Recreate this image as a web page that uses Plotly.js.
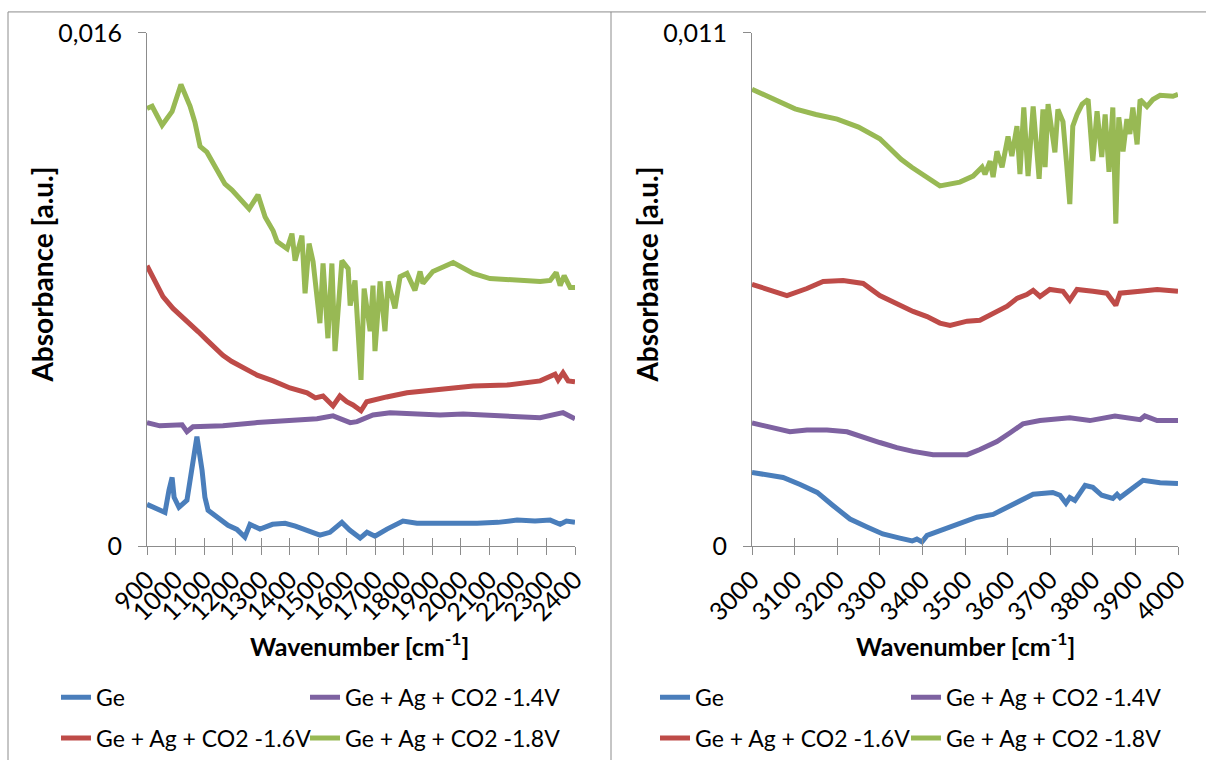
<!DOCTYPE html>
<html>
<head>
<meta charset="utf-8">
<script src="https://cdn.plot.ly/plotly-3.0.1.min.js"></script>
<style>
  html, body { margin: 0; padding: 0; background: #ffffff; }
  #chart { width: 1206px; height: 760px; }
</style>
</head>
<body>
<div id="chart"></div>
<script>
// ---------- DATA ----------
const seriesNames = ["Ge", "Ge + Ag + CO2 -1.4V", "Ge + Ag + CO2 -1.6V", "Ge + Ag + CO2 -1.8V"];

// Left panel (900 - 2400 cm-1)
const leftTicks = [900, 1000, 1100, 1200, 1300, 1400, 1500, 1600, 1700, 1800, 1900, 2000, 2100, 2200, 2300, 2400];
const leftYTicks = [0, 0.016];
const leftYTickText = ["0", "0,016"];

const leftGeX = [900, 945, 963, 977, 988, 995, 1012, 1040, 1061, 1075, 1093, 1103, 1114, 1150, 1184, 1215, 1243, 1261, 1296, 1340, 1384, 1420, 1461, 1506, 1541, 1583, 1610, 1647, 1671, 1699, 1741, 1797, 1846, 1902, 1980, 2057, 2130, 2197, 2260, 2313, 2348, 2370, 2400];
const leftGeY = [0.00130, 0.00112, 0.00105, 0.00174, 0.00214, 0.00152, 0.00121, 0.00143, 0.00254, 0.00341, 0.00236, 0.00152, 0.00112, 0.00090, 0.00065, 0.00052, 0.00028, 0.00068, 0.00053, 0.00068, 0.00071, 0.00062, 0.00050, 0.00034, 0.00043, 0.00074, 0.00050, 0.00025, 0.00043, 0.00031, 0.00053, 0.00078, 0.00071, 0.00071, 0.00068, 0.00071, 0.00074, 0.00081, 0.00078, 0.00081, 0.00068, 0.00078, 0.00074];

const left14X = [900, 945, 1023, 1040, 1061, 1166, 1286, 1401, 1496, 1552, 1612, 1636, 1692, 1752, 1927, 2008, 2162, 2278, 2358, 2393, 2400];
const left14Y = [0.00385, 0.00375, 0.00378, 0.00357, 0.00372, 0.00375, 0.00385, 0.00391, 0.00397, 0.00406, 0.00385, 0.00388, 0.00409, 0.00416, 0.00409, 0.00412, 0.00403, 0.00400, 0.00416, 0.00397, 0.00397];

const left16X = [900, 930, 956, 991, 1020, 1051, 1080, 1110, 1140, 1166, 1196, 1226, 1256, 1286, 1342, 1401, 1461, 1490, 1517, 1535, 1552, 1576, 1600, 1622, 1650, 1670, 1692, 1740, 1811, 1927, 2043, 2162, 2278, 2330, 2341, 2358, 2376, 2400];
const left16Y = [0.00874, 0.00825, 0.00778, 0.00741, 0.00718, 0.00695, 0.00668, 0.00642, 0.00616, 0.00595, 0.00576, 0.00561, 0.00545, 0.00533, 0.00515, 0.00493, 0.00478, 0.00462, 0.00468, 0.00450, 0.00437, 0.00468, 0.00450, 0.00440, 0.00422, 0.00450, 0.00456, 0.00465, 0.00478, 0.00487, 0.00499, 0.00502, 0.00515, 0.00536, 0.00518, 0.00540, 0.00515, 0.00512];

const left18X = [900, 918, 953, 988, 1019, 1051, 1068, 1086, 1110, 1131, 1173, 1198, 1258, 1289, 1314, 1342, 1356, 1391, 1408, 1419, 1443, 1454, 1468, 1482, 1506, 1517, 1534, 1548, 1559, 1583, 1605, 1612, 1629, 1650, 1661, 1682, 1692, 1699, 1717, 1734, 1745, 1769, 1787, 1811, 1839, 1857, 1867, 1902, 1973, 2043, 2102, 2278, 2313, 2334, 2348, 2362, 2383, 2400];
const left18Y = [0.01364, 0.01371, 0.01312, 0.01355, 0.01439, 0.01371, 0.01321, 0.01246, 0.01228, 0.01197, 0.01129, 0.01110, 0.01051, 0.01095, 0.01026, 0.00983, 0.00949, 0.00927, 0.00974, 0.00890, 0.00968, 0.00788, 0.00943, 0.00887, 0.00695, 0.00881, 0.00648, 0.00881, 0.00608, 0.00890, 0.00865, 0.00750, 0.00828, 0.00518, 0.00803, 0.00670, 0.00812, 0.00608, 0.00825, 0.00670, 0.00825, 0.00741, 0.00840, 0.00850, 0.00797, 0.00856, 0.00819, 0.00856, 0.00884, 0.00850, 0.00834, 0.00825, 0.00828, 0.00853, 0.00812, 0.00843, 0.00806, 0.00806];

// Right panel (3000 - 4000 cm-1)
const rightTicks = [3000, 3100, 3200, 3300, 3400, 3500, 3600, 3700, 3800, 3900, 4000];
const rightYTicks = [0, 0.011];
const rightYTickText = ["0", "0,011"];

const rightGeX = [3000, 3049, 3073, 3113, 3153, 3190, 3230, 3270, 3307, 3347, 3376, 3387, 3399, 3411, 3448, 3488, 3528, 3566, 3606, 3636, 3660, 3706, 3723, 3737, 3746, 3758, 3782, 3800, 3821, 3847, 3857, 3864, 3894, 3918, 3958, 4000];
const rightGeY = [0.00158, 0.00151, 0.00147, 0.00132, 0.00115, 0.00087, 0.00058, 0.00041, 0.00026, 0.00017, 0.00011, 0.00015, 0.00009, 0.00023, 0.00036, 0.00049, 0.00062, 0.00068, 0.00087, 0.00100, 0.00111, 0.00115, 0.00109, 0.00092, 0.00104, 0.00098, 0.00130, 0.00126, 0.00109, 0.00102, 0.00111, 0.00104, 0.00126, 0.00141, 0.00136, 0.00134];

const right14X = [3000, 3049, 3089, 3129, 3176, 3223, 3261, 3300, 3340, 3378, 3425, 3465, 3505, 3535, 3575, 3606, 3636, 3676, 3746, 3793, 3852, 3911, 3922, 3951, 4000];
const right14Y = [0.00264, 0.00254, 0.00245, 0.00249, 0.00249, 0.00245, 0.00235, 0.00222, 0.00211, 0.00203, 0.00196, 0.00196, 0.00196, 0.00207, 0.00224, 0.00243, 0.00262, 0.00269, 0.00275, 0.00269, 0.00279, 0.00271, 0.00279, 0.00269, 0.00269];

const right16X = [3000, 3042, 3082, 3129, 3167, 3214, 3261, 3300, 3340, 3378, 3411, 3441, 3465, 3505, 3535, 3566, 3599, 3622, 3645, 3660, 3676, 3699, 3730, 3746, 3763, 3800, 3833, 3854, 3864, 3911, 3951, 4000];
const right16Y = [0.00561, 0.00548, 0.00537, 0.00552, 0.00567, 0.00569, 0.00563, 0.00537, 0.00520, 0.00503, 0.00492, 0.00478, 0.00473, 0.00482, 0.00484, 0.00499, 0.00514, 0.00531, 0.00539, 0.00548, 0.00535, 0.00550, 0.00546, 0.00527, 0.00550, 0.00546, 0.00542, 0.00516, 0.00542, 0.00546, 0.00550, 0.00546];

const right18X = [3000, 3050, 3101, 3150, 3200, 3250, 3300, 3325, 3350, 3375, 3399, 3420, 3441, 3488, 3519, 3540, 3547, 3559, 3566, 3575, 3587, 3601, 3610, 3622, 3629, 3638, 3648, 3660, 3674, 3683, 3688, 3695, 3711, 3718, 3730, 3739, 3746, 3753, 3763, 3775, 3789, 3800, 3810, 3821, 3829, 3838, 3847, 3854, 3861, 3871, 3880, 3887, 3894, 3904, 3911, 3927, 3941, 3958, 3988, 4000];
const right18Y = [0.00979, 0.00957, 0.00937, 0.00925, 0.00915, 0.00898, 0.00873, 0.00851, 0.00829, 0.00812, 0.00797, 0.00782, 0.00772, 0.00780, 0.00793, 0.00812, 0.00797, 0.00825, 0.00791, 0.00846, 0.00812, 0.00878, 0.00836, 0.00900, 0.00797, 0.00940, 0.00793, 0.00942, 0.00787, 0.00936, 0.00812, 0.00947, 0.00844, 0.00936, 0.00910, 0.00814, 0.00733, 0.00900, 0.00925, 0.00947, 0.00957, 0.00825, 0.00932, 0.00834, 0.00925, 0.00802, 0.00940, 0.00691, 0.00919, 0.00846, 0.00915, 0.00883, 0.00940, 0.00861, 0.00957, 0.00942, 0.00957, 0.00966, 0.00964, 0.00968];

// ---------- STYLE ----------
const W = 1206, H = 760;
const px = v => v / W;
const py = v => 1 - v / H;
const FONT = "Lato, 'Open Sans', sans-serif";
const colors = ["#4A7EBB", "#7E62A1", "#BE4B48", "#98B954"];
const LW = 5;
const axisGray = "#8C8C8C";

function line(x, y, i, xa, ya, leg) {
  return {
    type: "scatter", mode: "lines", x: x, y: y,
    name: seriesNames[i], xaxis: xa, yaxis: ya,
    line: { color: colors[i], width: LW },
    legend: leg, hoverinfo: "x+y+name"
  };
}
function dummy(xa, ya) {
  return { type: "scatter", mode: "lines", x: [], y: [], xaxis: xa, yaxis: ya, showlegend: false, hoverinfo: "skip" };
}

const traces = [
  line(leftGeX, leftGeY, 0, "x", "y", "legend"),
  line(left14X, left14Y, 1, "x", "y", "legend2"),
  line(left16X, left16Y, 2, "x", "y", "legend3"),
  line(left18X, left18Y, 3, "x", "y", "legend4"),
  line(rightGeX, rightGeY, 0, "x2", "y2", "legend5"),
  line(right14X, right14Y, 1, "x2", "y2", "legend6"),
  line(right16X, right16Y, 2, "x2", "y2", "legend7"),
  line(right18X, right18Y, 3, "x2", "y2", "legend8"),
  dummy("x3", "y"), dummy("x", "y3"), dummy("x4", "y2"), dummy("x2", "y4")
];

const tickFont = { family: FONT, size: 25, color: "#000000" };
function xAxis(domain, range, ticks, anchor, extra) {
  return Object.assign({
    domain: domain, range: range, anchor: anchor,
    tickmode: "array", tickvals: ticks, ticktext: ticks.map(String),
    tickangle: -45, ticks: "outside", ticklen: 8, tickwidth: 1, tickcolor: axisGray,
    showline: true, linecolor: axisGray, linewidth: 1,
    showgrid: false, zeroline: false, tickfont: tickFont, fixedrange: true
  }, extra || {});
}
function yAxis(domain, range, vals, text, anchor, extra) {
  return Object.assign({
    domain: domain, range: range, anchor: anchor,
    tickmode: "array", tickvals: vals, ticktext: text,
    ticks: "outside", ticklen: 8, tickwidth: 1, tickcolor: axisGray,
    showline: true, linecolor: axisGray, linewidth: 1,
    showgrid: false, zeroline: false, tickfont: tickFont, ticklabelstandoff: 11, fixedrange: true
  }, extra || {});
}
const overlayX = { ticks: "inside", showticklabels: false, showline: false };
const overlayY = { ticks: "inside", showticklabels: false, showline: false, ticklabelstandoff: 0 };

const yDom = [py(549), py(33)];
const lDom = [px(147), px(575)];
const rDom = [px(752), px(1178)];

function legendAt(xp, yp) {
  return { x: px(xp), y: py(yp), xanchor: "left", yanchor: "middle", xref: "paper", yref: "paper",
           bgcolor: "rgba(0,0,0,0)", borderwidth: 0, font: { family: FONT, size: 23, color: "#000000" },
           itemwidth: 30 };
}

function ann(text, xp, yp, angle, size) {
  return { text: text, x: px(xp), y: py(yp), xref: "paper", yref: "paper", showarrow: false,
           xanchor: "center", yanchor: "middle", textangle: angle || 0,
           font: { family: FONT, size: size, color: "#000000" } };
}

const layout = {
  width: W, height: H,
  margin: { l: 0, r: 0, t: 0, b: 0 },
  paper_bgcolor: "#ffffff", plot_bgcolor: "rgba(0,0,0,0)",
  showlegend: true,
  xaxis: xAxis(lDom, [900, 2400], leftTicks, "y"),
  yaxis: yAxis(yDom, [0, 0.016], leftYTicks, leftYTickText, "x"),
  xaxis2: xAxis(rDom, [3000, 4000], rightTicks, "y2"),
  yaxis2: yAxis(yDom, [0, 0.011], rightYTicks, rightYTickText, "x2"),
  xaxis3: xAxis(lDom, [900, 2400], leftTicks, "y", Object.assign({ overlaying: "x" }, overlayX)),
  yaxis3: yAxis(yDom, [0, 0.016], leftYTicks, leftYTickText, "x", Object.assign({ overlaying: "y" }, overlayY)),
  xaxis4: xAxis(rDom, [3000, 4000], rightTicks, "y2", Object.assign({ overlaying: "x2" }, overlayX)),
  yaxis4: yAxis(yDom, [0, 0.011], rightYTicks, rightYTickText, "x2", Object.assign({ overlaying: "y2" }, overlayY)),
  legend: legendAt(56, 701),
  legend2: legendAt(305, 701),
  legend3: legendAt(56, 742),
  legend4: legendAt(305, 742),
  legend5: legendAt(655, 701),
  legend6: legendAt(906, 701),
  legend7: legendAt(655, 742),
  legend8: legendAt(906, 742),
  annotations: [
    ann("<b>Absorbance [a.u.]</b>", 42, 276, -90, 28),
    ann("<b>Wavenumber [cm<sup>-1</sup>]</b>", 360, 648, 0, 25),
    ann("<b>Absorbance [a.u.]</b>", 647, 276, -90, 28),
    ann("<b>Wavenumber [cm<sup>-1</sup>]</b>", 965, 648, 0, 25)
  ],
  shapes: [
    { type: "rect", xref: "paper", yref: "paper", x0: px(8), x1: 1.01, y0: -0.01, y1: py(12),
      line: { color: "#8C8C8C", width: 1 }, fillcolor: "rgba(0,0,0,0)", layer: "below" },
    { type: "line", xref: "paper", yref: "paper", x0: px(611), x1: px(611), y0: -0.01, y1: py(12),
      line: { color: "#8C8C8C", width: 1 }, layer: "below" }
  ]
};

Plotly.newPlot("chart", traces, layout, { displayModeBar: false, staticPlot: true });
</script>
</body>
</html>
